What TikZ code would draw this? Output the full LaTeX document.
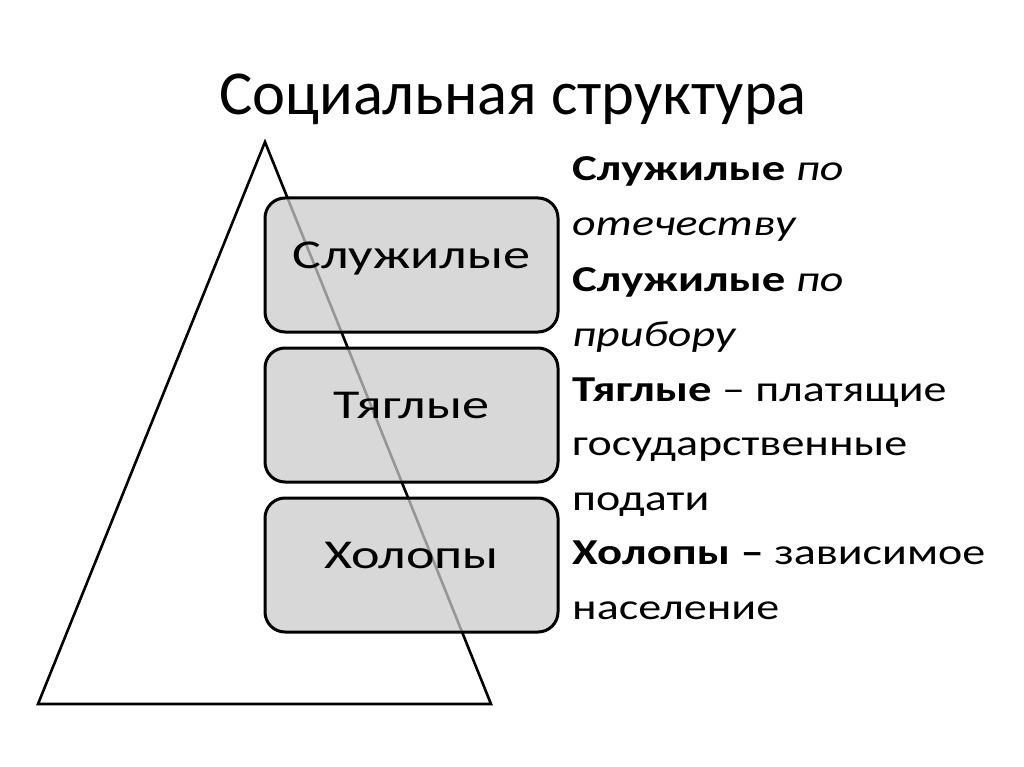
\documentclass[tikz,border=0pt]{standalone}
\usepackage{fontspec}
\setmainfont{Carlito}
\newfontfamily\boxfont[FakeStretch=1.32]{Carlito}
\newfontfamily\descfont[FakeStretch=1.26, BoldFeatures={FakeStretch=1.28}]{Carlito}
\definecolor{layerfill}{RGB}{203,203,203}
\begin{document}
\begin{tikzpicture}[x=1pt,y=-1pt,
  layer/.style={draw=black, line width=3pt, rounded corners=20pt, fill=layerfill, fill opacity=0.74, text opacity=1,
    minimum width=293pt, minimum height=134pt, inner sep=0pt,
    font=\boxfont\fontsize{41}{50}\selectfont, text height=0.63em, text depth=0pt},
  desc/.style={anchor=base west, inner sep=0pt, font=\descfont\fontsize{36.5}{44}\selectfont},
  title/.style={anchor=base, inner sep=0pt, font=\fontsize{62.5}{72}\selectfont}]
\useasboundingbox (0,0) rectangle (1024,767);
\fill[white] (0,0) rectangle (1024,767);
% pyramid
\coordinate (apex) at (265,142);
\coordinate (bl) at (38,704);
\coordinate (br) at (491,704);
\draw[line width=2.6pt, line join=miter] (apex) -- (bl) -- (br) -- cycle;
% title
\node[title] (t) at (513,115) {Социальная структура};
% layers
\node[layer] (s1) at (411.5,265) {Служилые};
\node[layer] (s2) at (411.5,415) {Тяглые};
\node[layer] (s3) at (411.5,565) {Холопы};
% descriptions
\node[desc] (d1) at (572,181) {\textbf{Служилые} \textit{по}};
\node[desc] (d2) at (572,236) {\textit{отечеству}};
\node[desc] (d3) at (572,291) {\textbf{Служилые} \textit{по}};
\node[desc] (d4) at (572,346) {\textit{прибору}};
\node[desc] (d5) at (572,401) {\textbf{Тяглые} – платящие};
\node[desc] (d6) at (572,455) {государственные};
\node[desc] (d7) at (572,510) {подати};
\node[desc] (d8) at (572,564) {\textbf{Холопы –} зависимое};
\node[desc] (d9) at (572,619) {население};
\end{tikzpicture}
\end{document}
